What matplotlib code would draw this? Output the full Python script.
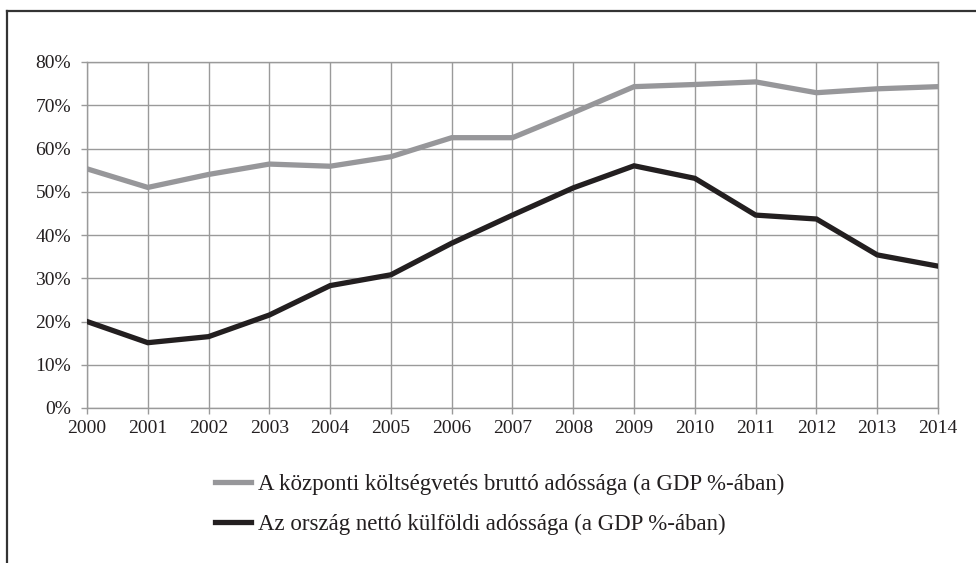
import matplotlib
matplotlib.use("Agg")
import matplotlib.pyplot as plt
from matplotlib.lines import Line2D
from matplotlib.ticker import FuncFormatter

years = list(range(2000, 2015))
gross_debt = [55.3, 51.0, 54.0, 56.4, 55.9, 58.1, 62.5, 62.5, 68.3, 74.3, 74.8, 75.4, 72.9, 73.8, 74.3]
net_ext_debt = [20.0, 15.1, 16.5, 21.5, 28.3, 30.8, 38.1, 44.6, 50.9, 56.0, 53.1, 44.6, 43.7, 35.4, 32.8]
labels = ["A központi költségvetés bruttó adóssága (a GDP %-ában)",
          "Az ország nettó külföldi adóssága (a GDP %-ában)"]
yticks = [0, 10, 20, 30, 40, 50, 60, 70, 80]

plt.rcParams['font.family'] = ['Liberation Serif', 'DejaVu Serif']

fig = plt.figure(figsize=(9.76, 5.63), dpi=100)
ax = fig.add_axes([87/976, 1-408/563, (938-87)/976, (408-62)/563])

grid_c = "#9a9a9a"
l1, = ax.plot(years, gross_debt, color="#97979a", lw=3.8, solid_joinstyle="miter", zorder=3)
l2, = ax.plot(years, net_ext_debt, color="#231f20", lw=3.8, solid_joinstyle="miter", zorder=4)

ax.set_xlim(2000, 2014)
ax.set_ylim(0, 80)
ax.set_xticks(years)
ax.set_yticks(yticks)
ax.yaxis.set_major_formatter(FuncFormatter(lambda v, p: f"{int(v)}%"))
ax.grid(True, color=grid_c, lw=1.0)
ax.set_axisbelow(True)
for s in ax.spines.values():
    s.set_color(grid_c)
    s.set_linewidth(1.0)
ax.tick_params(axis="both", direction="out", length=4.5, width=1.0, color=grid_c,
               labelsize=14, labelcolor="#231f20")
ax.tick_params(axis="y", pad=7)
ax.tick_params(axis="x", pad=4)

leg = fig.legend([l1, l2], labels, loc="upper left",
                 bbox_to_anchor=(206/976, 1-465/563), frameon=False, borderaxespad=0,
                 fontsize=16.5, handlelength=1.57, handletextpad=0.3,
                 labelspacing=0.8)
for t in leg.get_texts():
    t.set_color("#231f20")

fig.add_artist(Line2D([6.5/976, 1.0], [1-10.5/563, 1-10.5/563], transform=fig.transFigure,
                      color="#333333", lw=1.6))
fig.add_artist(Line2D([6.5/976, 6.5/976], [0, 1-10.5/563], transform=fig.transFigure,
                      color="#333333", lw=1.6))

fig.savefig("out.png", dpi=100)
